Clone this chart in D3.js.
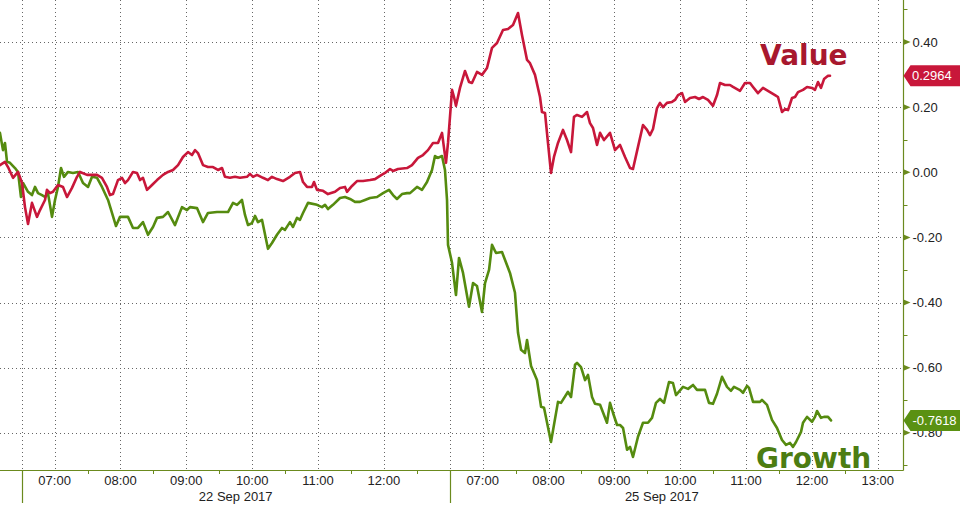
<!DOCTYPE html>
<html>
<head>
<meta charset="utf-8">
<script src="https://cdn.jsdelivr.net/npm/d3@7"></script>
<style>
  html, body { margin: 0; padding: 0; background: #fff; }
  svg { display: block; }
</style>
</head>
<body>
<div id="chart"></div>
<script>
// Time is expressed in trading-clock hours since 22 Sep 2017 06:30;
// the 25 Sep session starts at 6.5 (06:30).
const valueSeries = [[-0.330,0.022],[-0.254,0.032],[-0.208,0.016],[-0.132,-0.017],[-0.056,0.001],[0.005,-0.033],[0.050,-0.107],[0.096,-0.159],[0.156,-0.094],[0.232,-0.137],[0.278,-0.116],[0.354,-0.085],[0.384,-0.054],[0.430,-0.064],[0.475,-0.060],[0.551,-0.039],[0.627,-0.045],[0.688,-0.076],[0.764,-0.048],[0.840,-0.014],[0.885,0.001],[0.992,-0.008],[1.144,-0.008],[1.219,-0.017],[1.295,-0.045],[1.341,-0.070],[1.386,-0.067],[1.462,-0.024],[1.523,-0.017],[1.569,-0.033],[1.614,-0.024],[1.690,0.001],[1.751,-0.002],[1.797,-0.024],[1.842,-0.017],[1.903,-0.054],[1.979,-0.039],[2.055,-0.024],[2.146,-0.008],[2.222,0.001],[2.298,0.007],[2.374,0.022],[2.449,0.047],[2.525,0.062],[2.586,0.053],[2.632,0.068],[2.677,0.059],[2.753,0.022],[2.829,0.016],[2.905,0.016],[2.981,0.007],[3.042,0.013],[3.087,-0.014],[3.163,-0.017],[3.239,-0.014],[3.315,-0.017],[3.421,-0.014],[3.467,-0.005],[3.513,-0.014],[3.573,-0.008],[3.664,-0.017],[3.740,-0.024],[3.801,-0.014],[3.877,-0.021],[3.968,-0.027],[4.074,-0.014],[4.150,-0.002],[4.226,0.001],[4.272,-0.030],[4.333,-0.045],[4.408,-0.045],[4.439,-0.030],[4.484,-0.054],[4.576,-0.057],[4.651,-0.067],[4.758,-0.060],[4.834,-0.048],[4.910,-0.045],[4.940,-0.060],[5.016,-0.042],[5.092,-0.027],[5.183,-0.027],[5.289,-0.024],[5.365,-0.021],[5.441,-0.011],[5.517,-0.002],[5.593,0.010],[5.639,0.004],[5.715,0.010],[5.851,0.013],[5.927,0.022],[6.018,0.044],[6.094,0.053],[6.170,0.068],[6.246,0.090],[6.322,0.090],[6.383,0.121],[6.443,0.029],[6.474,0.090],[6.535,0.253],[6.565,0.231],[6.595,0.204],[6.656,0.259],[6.732,0.311],[6.793,0.277],[6.838,0.274],[6.914,0.308],[6.990,0.299],[7.066,0.320],[7.142,0.382],[7.218,0.397],[7.309,0.437],[7.385,0.440],[7.461,0.452],[7.537,0.489],[7.598,0.421],[7.674,0.345],[7.719,0.335],[7.795,0.299],[7.871,0.231],[7.901,0.185],[7.947,0.182],[7.992,0.090],[8.038,-0.002],[8.083,0.047],[8.144,0.090],[8.220,0.130],[8.281,0.099],[8.342,0.062],[8.387,0.170],[8.433,0.176],[8.509,0.170],[8.585,0.185],[8.630,0.151],[8.676,0.136],[8.737,0.084],[8.783,0.121],[8.843,0.099],[8.934,0.121],[9.010,0.068],[9.086,0.084],[9.162,0.047],[9.238,0.013],[9.283,0.010],[9.359,0.078],[9.435,0.145],[9.496,0.130],[9.541,0.114],[9.587,0.133],[9.648,0.197],[9.693,0.213],[9.739,0.200],[9.799,0.213],[9.875,0.216],[9.921,0.222],[9.967,0.237],[10.028,0.243],[10.073,0.216],[10.149,0.228],[10.225,0.231],[10.286,0.225],[10.346,0.231],[10.422,0.222],[10.498,0.204],[10.559,0.237],[10.604,0.274],[10.680,0.268],[10.756,0.268],[10.802,0.262],[10.908,0.250],[10.984,0.274],[11.060,0.274],[11.106,0.262],[11.181,0.243],[11.257,0.259],[11.364,0.246],[11.440,0.237],[11.485,0.231],[11.546,0.185],[11.592,0.194],[11.637,0.191],[11.698,0.228],[11.744,0.231],[11.789,0.246],[11.865,0.253],[11.926,0.262],[12.002,0.259],[12.047,0.253],[12.093,0.277],[12.138,0.259],[12.184,0.286],[12.245,0.296],[12.275,0.2964]];

const growthSeries = [[-0.330,0.121],[-0.284,0.068],[-0.254,0.090],[-0.223,0.032],[-0.178,0.029],[-0.102,0.013],[-0.056,0.001],[-0.011,-0.076],[0.020,-0.033],[0.096,-0.060],[0.156,-0.070],[0.202,-0.045],[0.248,-0.064],[0.308,-0.070],[0.354,-0.076],[0.399,-0.064],[0.460,-0.137],[0.506,-0.085],[0.551,-0.045],[0.597,0.013],[0.642,-0.014],[0.703,0.001],[0.779,-0.002],[0.855,0.001],[0.931,-0.033],[1.007,-0.045],[1.068,-0.014],[1.144,-0.017],[1.219,-0.045],[1.311,-0.085],[1.371,-0.125],[1.432,-0.165],[1.493,-0.137],[1.614,-0.137],[1.690,-0.171],[1.766,-0.171],[1.842,-0.153],[1.918,-0.192],[1.994,-0.168],[2.055,-0.140],[2.146,-0.137],[2.222,-0.122],[2.328,-0.162],[2.434,-0.107],[2.510,-0.116],[2.556,-0.107],[2.662,-0.110],[2.753,-0.153],[2.829,-0.125],[2.966,-0.122],[3.057,-0.122],[3.133,-0.122],[3.209,-0.094],[3.270,-0.100],[3.345,-0.085],[3.391,-0.131],[3.437,-0.162],[3.497,-0.156],[3.543,-0.134],[3.588,-0.153],[3.649,-0.146],[3.740,-0.235],[3.801,-0.217],[3.877,-0.192],[3.953,-0.171],[3.998,-0.177],[4.074,-0.153],[4.120,-0.168],[4.181,-0.140],[4.226,-0.146],[4.272,-0.125],[4.348,-0.094],[4.484,-0.100],[4.560,-0.107],[4.606,-0.100],[4.651,-0.113],[4.727,-0.100],[4.834,-0.079],[4.910,-0.076],[4.986,-0.082],[5.061,-0.091],[5.137,-0.091],[5.213,-0.085],[5.289,-0.079],[5.396,-0.076],[5.487,-0.064],[5.578,-0.054],[5.639,-0.070],[5.699,-0.082],[5.775,-0.067],[5.851,-0.064],[5.897,-0.064],[6.003,-0.045],[6.079,-0.054],[6.155,-0.030],[6.231,0.007],[6.276,0.050],[6.322,0.044],[6.383,0.050],[6.428,0.007],[6.459,-0.085],[6.474,-0.223],[6.535,-0.278],[6.595,-0.377],[6.641,-0.263],[6.702,-0.309],[6.793,-0.413],[6.854,-0.340],[6.914,-0.349],[6.990,-0.429],[7.036,-0.340],[7.097,-0.300],[7.142,-0.223],[7.203,-0.248],[7.294,-0.245],[7.415,-0.309],[7.491,-0.370],[7.537,-0.493],[7.583,-0.545],[7.643,-0.555],[7.674,-0.515],[7.735,-0.595],[7.825,-0.638],[7.887,-0.720],[7.932,-0.723],[8.038,-0.828],[8.144,-0.705],[8.190,-0.708],[8.296,-0.674],[8.342,-0.690],[8.403,-0.591],[8.433,-0.585],[8.494,-0.598],[8.555,-0.638],[8.600,-0.622],[8.661,-0.690],[8.706,-0.711],[8.783,-0.714],[8.888,-0.769],[8.934,-0.708],[8.980,-0.739],[9.041,-0.776],[9.086,-0.776],[9.132,-0.785],[9.193,-0.852],[9.238,-0.843],[9.283,-0.874],[9.359,-0.812],[9.435,-0.769],[9.511,-0.769],[9.572,-0.754],[9.632,-0.708],[9.693,-0.696],[9.754,-0.708],[9.830,-0.644],[9.890,-0.647],[9.936,-0.684],[10.043,-0.659],[10.119,-0.665],[10.195,-0.653],[10.255,-0.668],[10.377,-0.668],[10.437,-0.708],[10.498,-0.711],[10.559,-0.680],[10.635,-0.628],[10.711,-0.659],[10.771,-0.671],[10.817,-0.659],[10.908,-0.668],[10.954,-0.677],[11.015,-0.656],[11.045,-0.662],[11.106,-0.705],[11.212,-0.705],[11.242,-0.699],[11.318,-0.714],[11.394,-0.760],[11.470,-0.785],[11.546,-0.822],[11.607,-0.837],[11.668,-0.831],[11.713,-0.843],[11.759,-0.828],[11.835,-0.797],[11.865,-0.769],[11.926,-0.751],[12.002,-0.766],[12.047,-0.751],[12.078,-0.733],[12.138,-0.754],[12.184,-0.751],[12.245,-0.751],[12.290,-0.7618]];

const hourTicks = [0.5,1.5,2.5,3.5,4.5,5.5,7,8,9,10,11,12,13];
const hourLabels = ["07:00","08:00","09:00","10:00","11:00","12:00","07:00","08:00","09:00","10:00","11:00","12:00","13:00"];
const halfHourTicks = [1,2,3,4,5,6,7.5,8.5,9.5,10.5,11.5,12.5];
const sessionStarts = [0, 6.5];
const dateLabels = ["22 Sep 2017", "25 Sep 2017"];
const dateCenters = [3.25, 9.72];
const yMajorTicks = [0.4, 0.2, 0, -0.2, -0.4, -0.6, -0.8];
const yMinorTicks = [0.5, 0.3, 0.1, -0.1, -0.3, -0.5, -0.7, -0.9];
const seriesNames = ["Value", "Growth"];
const lastValues = [0.2964, -0.7618];

const W = 969, H = 510;
const plotRight = 903.5, plotBottom = 470;
const RED = "#c8173a", GREEN = "#558b0f", AXIS = "#6b8a1e";

const svg = d3.select("#chart").append("svg")
  .attr("width", W).attr("height", H)
  .style("font-family", "'Liberation Sans', Arial, sans-serif");
svg.append("rect").attr("width", W).attr("height", H).attr("fill", "#fff");

const x = d3.scaleLinear().domain([-0.3295, 13.391]).range([0, plotRight]);
const y = d3.scaleLinear().domain([-0.9141, 0.5289]).range([plotBottom, 0]);

svg.append("defs").append("clipPath").attr("id", "clip")
  .append("rect").attr("x", 0).attr("y", 0).attr("width", plotRight).attr("height", plotBottom);

// gridlines
const grid = svg.append("g");
grid.selectAll("line.h").data(yMajorTicks).join("line")
  .attr("x1", 0).attr("x2", plotRight)
  .attr("y1", d => Math.round(y(d)) + 0.5).attr("y2", d => Math.round(y(d)) + 0.5)
  .attr("stroke", "#666").attr("stroke-width", 1).attr("stroke-dasharray", "1,3");
grid.selectAll("line.v").data(sessionStarts.concat(hourTicks)).join("line")
  .attr("x1", d => Math.round(x(d)) + 0.5).attr("x2", d => Math.round(x(d)) + 0.5)
  .attr("y1", 0).attr("y2", plotBottom)
  .attr("stroke", "#666").attr("stroke-width", 1).attr("stroke-dasharray", "1,3");

// lines
const line = d3.line().x(d => x(d[0])).y(d => y(d[1])).curve(d3.curveLinear);
const lines = svg.append("g").attr("clip-path", "url(#clip)");
lines.append("path").datum(growthSeries).attr("d", line)
  .attr("fill", "none").attr("stroke", GREEN).attr("stroke-width", 2.6)
  .attr("stroke-linejoin", "round").attr("stroke-linecap", "round");
lines.append("path").datum(valueSeries).attr("d", line)
  .attr("fill", "none").attr("stroke", RED).attr("stroke-width", 2.6)
  .attr("stroke-linejoin", "round").attr("stroke-linecap", "round");

// x axis
const xa = svg.append("g");
xa.append("line").attr("x1", 0).attr("x2", plotRight)
  .attr("y1", plotBottom + 0.5).attr("y2", plotBottom + 0.5)
  .attr("stroke", AXIS).attr("stroke-width", 1.2);
xa.selectAll("line.mt").data(halfHourTicks).join("line")
  .attr("x1", d => Math.round(x(d)) + 0.5).attr("x2", d => Math.round(x(d)) + 0.5)
  .attr("y1", plotBottom).attr("y2", plotBottom + 4)
  .attr("stroke", AXIS).attr("stroke-width", 1);
xa.selectAll("line.sep").data(sessionStarts).join("line")
  .attr("x1", d => Math.round(x(d)) + 0.5).attr("x2", d => Math.round(x(d)) + 0.5)
  .attr("y1", plotBottom).attr("y2", 503)
  .attr("stroke", AXIS).attr("stroke-width", 1.2);
xa.selectAll("text.hl").data(hourTicks).join("text")
  .attr("x", d => x(d)).attr("y", 485)
  .attr("text-anchor", "middle").attr("font-size", 13).attr("fill", "#222")
  .text((d, i) => hourLabels[i]);
xa.selectAll("text.dl").data(dateCenters).join("text")
  .attr("x", d => x(d)).attr("y", 501)
  .attr("text-anchor", "middle").attr("font-size", 13).attr("fill", "#222")
  .text((d, i) => dateLabels[i]);

// right y axis
const ya = svg.append("g");
ya.append("line").attr("x1", plotRight).attr("x2", plotRight)
  .attr("y1", 0).attr("y2", plotBottom + 0.5)
  .attr("stroke", AXIS).attr("stroke-width", 1.2);
ya.selectAll("line.ym").data(yMinorTicks).join("line")
  .attr("x1", plotRight).attr("x2", plotRight + 4)
  .attr("y1", d => Math.round(y(d)) + 0.5).attr("y2", d => Math.round(y(d)) + 0.5)
  .attr("stroke", AXIS).attr("stroke-width", 1);
ya.selectAll("path.tri").data(yMajorTicks).join("path")
  .attr("d", d => `M${plotRight},${y(d) - 3} L${plotRight + 7},${y(d)} L${plotRight},${y(d) + 3} Z`)
  .attr("fill", AXIS);
ya.selectAll("text.yl").data(yMajorTicks).join("text")
  .attr("x", 912.5).attr("y", d => y(d)).attr("dy", "0.35em")
  .attr("font-size", 13).attr("fill", "#222")
  .text(d => d3.format(".2f")(d).replace("−", "-"));

// last value tags
const tagColors = [RED, "#5a9112"];
const tags = svg.append("g");
lastValues.forEach((v, i) => {
  const cy = y(v);
  tags.append("path")
    .attr("d", `M${plotRight},${cy} L${plotRight + 7},${cy - 10.5} L960,${cy - 10.5} L960,${cy + 10.5} L${plotRight + 7},${cy + 10.5} Z`)
    .attr("fill", tagColors[i]);
  tags.append("text").attr("x", i === 0 ? 912 : 912.5).attr("y", cy).attr("dy", "0.36em")
    .attr("font-size", 13).attr("fill", "#fff")
    .text(d3.format(".4f")(v).replace("−", "-"));
});

// series annotations
svg.append("text").attr("x", 760).attr("y", 65)
  .attr("font-family", "'DejaVu Sans', Verdana, sans-serif").attr("font-weight", "bold")
  .attr("font-size", 28).attr("fill", "#a8182e").text(seriesNames[0]);
svg.append("text").attr("x", 756).attr("y", 467.5)
  .attr("font-family", "'DejaVu Sans', Verdana, sans-serif").attr("font-weight", "bold")
  .attr("font-size", 28).attr("fill", "#4c7d12").text(seriesNames[1]);
</script>
</body>
</html>
